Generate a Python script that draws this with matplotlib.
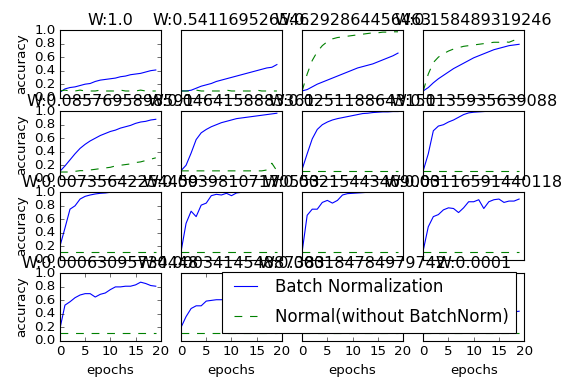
# Batch norm vs normal init: training accuracy for 16 weight scales

import numpy as np
import matplotlib
matplotlib.use("Agg")
import matplotlib.pyplot as plt

plt.style.use('classic')

# weight scales as printed in the titles
weight_titles = ["1.0", "0.541169526546", "0.292864456463", "0.158489319246",
                 "0.0857695898591", "0.0464158883361", "0.0251188643151", "0.0135935639088",
                 "0.00735642254459", "0.00398107170553", "0.00215443469003", "0.00116591440118",
                 "0.00063095734448", "0.000341454887383", "0.000184784979742", "0.0001"]

epochs = np.arange(20)

# accuracy with batch normalization
bn_acc = [
    [0.08, 0.13, 0.15, 0.16, 0.18, 0.20, 0.21, 0.24, 0.26, 0.27, 0.28, 0.29, 0.31, 0.32, 0.34, 0.35, 0.36, 0.38, 0.40, 0.41],
    [0.10, 0.10, 0.11, 0.14, 0.17, 0.19, 0.21, 0.24, 0.26, 0.28, 0.30, 0.32, 0.34, 0.36, 0.38, 0.40, 0.42, 0.44, 0.45, 0.49],
    [0.10, 0.12, 0.16, 0.20, 0.23, 0.26, 0.29, 0.32, 0.35, 0.38, 0.41, 0.44, 0.46, 0.48, 0.50, 0.53, 0.56, 0.59, 0.62, 0.66],
    [0.10, 0.15, 0.22, 0.28, 0.33, 0.38, 0.43, 0.47, 0.51, 0.55, 0.59, 0.62, 0.65, 0.68, 0.71, 0.73, 0.75, 0.77, 0.78, 0.79],
    [0.11, 0.19, 0.28, 0.37, 0.45, 0.51, 0.56, 0.60, 0.64, 0.67, 0.70, 0.72, 0.75, 0.77, 0.79, 0.82, 0.84, 0.85, 0.87, 0.88],
    [0.12, 0.20, 0.38, 0.58, 0.68, 0.73, 0.77, 0.80, 0.83, 0.85, 0.87, 0.89, 0.90, 0.91, 0.92, 0.93, 0.94, 0.95, 0.96, 0.97],
    [0.14, 0.37, 0.59, 0.73, 0.80, 0.84, 0.87, 0.89, 0.905, 0.92, 0.935, 0.95, 0.965, 0.97, 0.98, 0.985, 0.99, 0.99, 0.995, 0.995],
    [0.12, 0.37, 0.71, 0.78, 0.80, 0.84, 0.87, 0.91, 0.95, 0.975, 0.985, 0.99, 0.995, 1.0, 1.0, 1.0, 1.0, 1.0, 1.0, 1.0],
    [0.20, 0.47, 0.75, 0.80, 0.90, 0.94, 0.96, 0.975, 0.985, 0.99, 1.0, 1.0, 1.0, 1.0, 1.0, 1.0, 1.0, 1.0, 1.0, 1.0],
    [0.12, 0.54, 0.72, 0.64, 0.81, 0.84, 0.95, 0.97, 0.96, 0.985, 0.95, 0.99, 1.0, 1.0, 1.0, 1.0, 1.0, 1.0, 1.0, 1.0],
    [0.12, 0.66, 0.75, 0.75, 0.85, 0.88, 0.84, 0.88, 0.96, 0.98, 0.985, 0.99, 0.995, 1.0, 1.0, 1.0, 1.0, 1.0, 1.0, 1.0],
    [0.14, 0.49, 0.64, 0.67, 0.74, 0.77, 0.76, 0.70, 0.77, 0.86, 0.86, 0.89, 0.76, 0.86, 0.89, 0.90, 0.85, 0.87, 0.87, 0.90],
    [0.18, 0.53, 0.58, 0.64, 0.68, 0.70, 0.70, 0.65, 0.69, 0.71, 0.76, 0.80, 0.80, 0.81, 0.81, 0.83, 0.87, 0.85, 0.82, 0.81],
    [0.20, 0.36, 0.48, 0.52, 0.52, 0.59, 0.60, 0.61, 0.61, 0.62, 0.63, 0.64, 0.64, 0.65, 0.66, 0.66, 0.67, 0.68, 0.68, 0.69],
    [0.12, 0.30, 0.45, 0.55, 0.60, 0.62, 0.65, 0.67, 0.70, 0.72, 0.73, 0.75, 0.76, 0.77, 0.78, 0.79, 0.80, 0.81, 0.82, 0.82],
    [0.10, 0.15, 0.20, 0.22, 0.25, 0.27, 0.29, 0.30, 0.32, 0.33, 0.35, 0.36, 0.37, 0.38, 0.39, 0.40, 0.41, 0.42, 0.43, 0.44],
]

# accuracy without batch normalization
normal_acc = [
    [0.099, 0.112, 0.099, 0.099, 0.112, 0.099, 0.099, 0.099, 0.112, 0.099, 0.099, 0.099, 0.112, 0.099, 0.099, 0.099, 0.112, 0.099, 0.099, 0.099],
    [0.099, 0.099, 0.099, 0.112, 0.099, 0.099, 0.099, 0.099, 0.099, 0.112, 0.099, 0.099, 0.099, 0.099, 0.099, 0.112, 0.099, 0.099, 0.099, 0.099],
    [0.10, 0.35, 0.55, 0.68, 0.77, 0.83, 0.87, 0.89, 0.90, 0.91, 0.92, 0.93, 0.94, 0.95, 0.96, 0.96, 0.97, 0.97, 0.975, 0.975],
    [0.10, 0.35, 0.52, 0.60, 0.65, 0.69, 0.72, 0.74, 0.76, 0.77, 0.78, 0.79, 0.80, 0.81, 0.82, 0.82, 0.83, 0.82, 0.85, 0.88],
    [0.10, 0.10, 0.10, 0.11, 0.12, 0.12, 0.13, 0.14, 0.15, 0.16, 0.17, 0.19, 0.20, 0.21, 0.22, 0.24, 0.25, 0.27, 0.29, 0.31],
    [0.117, 0.117, 0.117, 0.117, 0.117, 0.117, 0.117, 0.117, 0.117, 0.117, 0.117, 0.117, 0.117, 0.117, 0.117, 0.117, 0.117, 0.13, 0.23, 0.117],
    [0.117] * 20,
    [0.117] * 20,
    [0.117] * 20,
    [0.117] * 20,
    [0.117] * 20,
    [0.117] * 20,
    [0.117] * 20,
    [0.117] * 20,
    [0.117] * 20,
    [0.117] * 20,
]

def main():
    fig = plt.figure(figsize=(7.2, 4.8875), dpi=80)
    fig.subplots_adjust(left=0.104, right=0.91, bottom=0.128, top=0.923, wspace=0.2, hspace=0.2)

    for i in range(16):
        ax = plt.subplot(4, 4, i + 1)
        plt.title("W:" + weight_titles[i])
        if i == 15:
            plt.plot(epochs, bn_acc[i], 'b-', label='Batch Normalization')
            plt.plot(epochs, normal_acc[i], 'g--', dashes=(7, 7), label='Normal(without BatchNorm)')
        else:
            plt.plot(epochs, bn_acc[i], 'b-')
            plt.plot(epochs, normal_acc[i], 'g--', dashes=(7, 7))
        plt.ylim(0, 1.0)
        plt.xlim(0, 20)
        if i % 4:
            plt.yticks([])
        else:
            plt.ylabel("accuracy")
        if i < 12:
            plt.xticks([])
        else:
            plt.xlabel("epochs")
    plt.legend(loc='lower right', fontsize=15, labelspacing=0.7)

    plt.savefig("out.png", dpi=80)

if __name__ == "__main__":
    main()
